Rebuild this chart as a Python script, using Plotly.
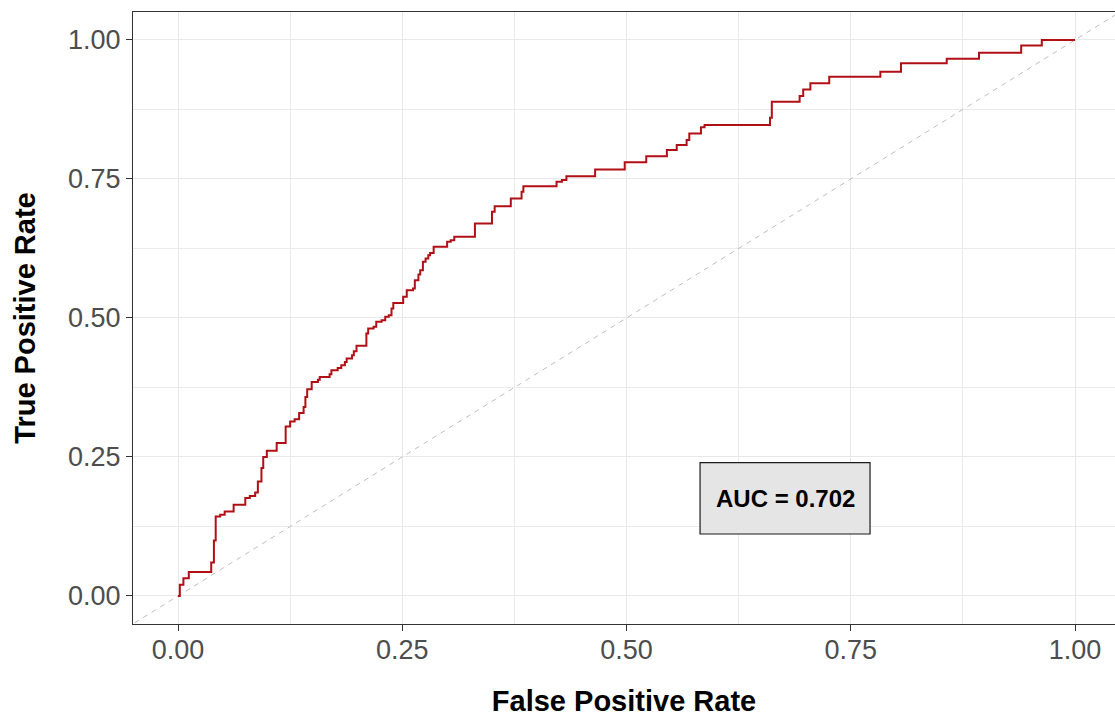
import plotly.graph_objects as go

# ROC curve: each point is the top of a rise at that false positive rate
fpr = [0.0, 0.002, 0.006, 0.012, 0.037, 0.040, 0.042, 0.047, 0.052, 0.062, 0.075,
       0.080, 0.086, 0.089, 0.093, 0.095, 0.099, 0.110, 0.120, 0.125, 0.130,
       0.135, 0.140, 0.142, 0.144, 0.149, 0.156, 0.158, 0.169, 0.171, 0.178,
       0.182, 0.186, 0.188, 0.194, 0.196, 0.199, 0.210, 0.212, 0.218, 0.221,
       0.227, 0.231, 0.235, 0.238, 0.240, 0.251, 0.255, 0.262, 0.264, 0.268,
       0.270, 0.273, 0.276, 0.279, 0.281, 0.285, 0.300, 0.304, 0.308, 0.331,
       0.350, 0.353, 0.371, 0.383, 0.385, 0.422, 0.428, 0.433, 0.465, 0.498,
       0.522, 0.545, 0.556, 0.567, 0.570, 0.583, 0.587, 0.660, 0.662, 0.693,
       0.697, 0.705, 0.726, 0.783, 0.806, 0.857, 0.893, 0.940, 0.963, 1.0]
tpr = [0.0, 0.020, 0.032, 0.043, 0.060, 0.100, 0.143, 0.146, 0.152, 0.164, 0.176,
       0.180, 0.186, 0.206, 0.230, 0.250, 0.261, 0.275, 0.305, 0.314, 0.318,
       0.329, 0.340, 0.358, 0.372, 0.385, 0.389, 0.394, 0.399, 0.406, 0.410,
       0.415, 0.421, 0.427, 0.433, 0.440, 0.450, 0.472, 0.481, 0.484, 0.493,
       0.496, 0.502, 0.505, 0.517, 0.527, 0.538, 0.550, 0.553, 0.568, 0.578,
       0.586, 0.601, 0.607, 0.613, 0.617, 0.628, 0.637, 0.640, 0.646, 0.670,
       0.691, 0.701, 0.715, 0.727, 0.737, 0.745, 0.748, 0.755, 0.767, 0.780,
       0.791, 0.802, 0.811, 0.820, 0.832, 0.843, 0.847, 0.860, 0.889, 0.899,
       0.911, 0.922, 0.934, 0.943, 0.958, 0.966, 0.977, 0.990, 1.000, 1.0]

auc_value = 0.702
auc_pos = (0.677, 0.176)
auc_box = (0.582, 0.1115, 0.7715, 0.2397)

tick_vals = [0.0, 0.25, 0.5, 0.75, 1.0]
tick_text = ["0.00", "0.25", "0.50", "0.75", "1.00"]

FONT = "Liberation Sans, Arial, sans-serif"

fig = go.Figure()

# chance line y = x
fig.add_trace(go.Scatter(
    x=[-0.2, 1.2], y=[-0.2, 1.2], mode="lines",
    line=dict(color="#BEBEBE", width=1, dash="5px,5px"),
    hoverinfo="skip", showlegend=False))

fig.add_trace(go.Scatter(
    x=fpr, y=tpr, mode="lines",
    line=dict(color="#B01015", width=2, shape="hv"),
    showlegend=False))

fig.add_shape(type="rect", xref="x", yref="y",
              x0=auc_box[0], y0=auc_box[1], x1=auc_box[2], y1=auc_box[3],
              fillcolor="#E5E5E5", line=dict(color="#1A1A1A", width=1.2))
fig.add_annotation(x=auc_pos[0], y=auc_pos[1], xref="x", yref="y",
                   text=f"<b>AUC = {auc_value:.3f}</b>", showarrow=False,
                   font=dict(family=FONT, size=24, color="black"))

axis_common = dict(
    tickvals=tick_vals, ticktext=tick_text,
    showgrid=True, gridcolor="#E8E8E8", gridwidth=1.4,
    minor=dict(dtick=0.125, showgrid=True, gridcolor="#EBEBEB", gridwidth=0.9),
    zeroline=False, showline=True, linecolor="#333333", linewidth=1.3,
    ticks="outside", ticklen=6, tickwidth=1.3, tickcolor="#333333",
    tickfont=dict(family=FONT, size=27, color="#4D4D4D"),
)

fig.update_xaxes(range=[-0.0502, 1.0446], mirror=True, ticklabelstandoff=-5,
                 title=dict(text="<b>False Positive Rate</b>", standoff=29,
                            font=dict(family=FONT, size=29, color="black")),
                 **axis_common)
fig.update_yaxes(range=[-0.0504, 1.0503], mirror=False,
                 title=dict(text="<b>True Positive Rate</b>", standoff=23,
                            font=dict(family=FONT, size=29, color="black")),
                 **axis_common)

fig.update_layout(
    width=1115, height=717,
    margin=dict(l=133, r=0, t=12, b=93),
    plot_bgcolor="white", paper_bgcolor="white",
)

fig.write_html("out.html")
